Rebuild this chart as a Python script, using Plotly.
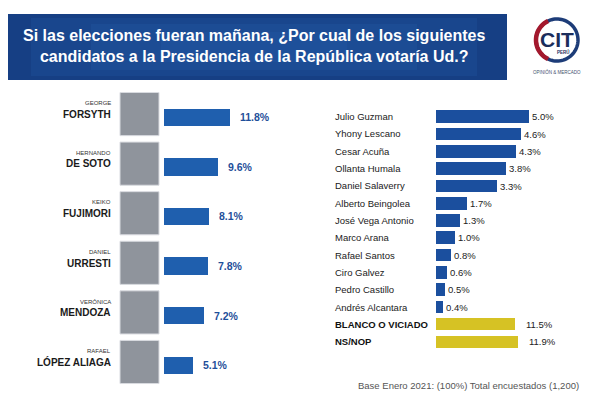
import numpy as np
import plotly.graph_objects as go

# left panel: main candidates
first_names = ["GEORGE", "HERNANDO", "KEIKO", "DANIEL", "VERÓNICA", "RAFAEL"]
last_names = ["FORSYTH", "DE SOTO", "FUJIMORI", "URRESTI", "MENDOZA", "LÓPEZ ALIAGA"]
main_vals = [11.8, 9.6, 8.1, 7.8, 7.2, 5.1]

# right panel: other candidates
other_names = ["Julio Guzman", "Yhony Lescano", "Cesar Acuña", "Ollanta Humala",
               "Daniel Salaverry", "Alberto Beingolea", "José Vega Antonio", "Marco Arana",
               "Rafael Santos", "Ciro Galvez", "Pedro Castillo", "Andrés Alcantara"]
other_vals = [5.0, 4.6, 4.3, 3.8, 3.3, 1.7, 1.3, 1.0, 0.8, 0.6, 0.5, 0.4]

blank_names = ["BLANCO O VICIADO", "NS/NOP"]
blank_vals = [11.5, 11.9]

title = ("Si las elecciones fueran mañana, ¿Por cual de los siguientes<br>"
         "candidatos a la Presidencia de la República votaría Ud.?")
footer = "Base Enero 2021: (100%) Total encuestados (1,200)"

W, H = 600, 400
OFF = 8  # the page body margin pushes the plot 8px right and down
FONT = "Liberation Sans"


def px(x):
    return (x - OFF) / W


def py(y):
    return 1 - (y - OFF) / H


fig = go.Figure()

fig.add_bar(x=main_vals, y=last_names, orientation="h", width=0.35,
            marker=dict(color="#1f5fae", line=dict(width=0)),
            xaxis="x", yaxis="y", hoverinfo="x+y")

fig.add_bar(x=other_vals, y=other_names, orientation="h", width=0.73,
            marker=dict(color="#1b4f9e", line=dict(width=0)),
            text=[f"{v:.1f}%" for v in other_vals], textposition="outside",
            textfont=dict(family=FONT, size=9.5, color="#222222"),
            cliponaxis=False, xaxis="x2", yaxis="y2", hoverinfo="x+y")

fig.add_bar(x=blank_vals, y=blank_names, orientation="h", width=0.68,
            marker=dict(color="#d6c224", line=dict(width=0)),
            xaxis="x3", yaxis="y2", hoverinfo="x+y")

hidden = dict(showgrid=False, zeroline=False, showticklabels=False, showline=False,
              ticks="", fixedrange=True)

fig.update_layout(
    width=W, height=H,
    margin=dict(l=0, r=0, t=0, b=0),
    paper_bgcolor="white", plot_bgcolor="rgba(0,0,0,0)",
    showlegend=False, bargap=0,
    font=dict(family=FONT, color="#222222"),
    xaxis=dict(domain=[px(164), px(164 + 5.6 * 22)], range=[0, 22], anchor="y", **hidden),
    yaxis=dict(domain=[py(390), py(92)], autorange="reversed", anchor="x",
               categoryorder="array", categoryarray=last_names, **hidden),
    xaxis2=dict(domain=[px(436), px(436 + 18.5 * 7)], range=[0, 7], anchor="y2", **hidden),
    xaxis3=dict(domain=[px(436), px(436 + 18.5 * 7)], range=[0, 18.5 * 7 / 6.85],
                overlaying="x2", anchor="y2", **hidden),
    yaxis2=dict(domain=[py(350.3), py(108)], autorange="reversed", anchor="x2",
                categoryorder="array", categoryarray=other_names + blank_names, **hidden),
)

shapes = []
annotations = []


def label(text, x, y, size, color="#222222", xanchor="center", yanchor="middle", **kw):
    annotations.append(dict(text=text, x=x, y=y, xanchor=xanchor, yanchor=yanchor,
                            showarrow=False, font=dict(family=FONT, size=size, color=color), **kw))


# title banner with a soft lighter centre
shapes.append(dict(type="rect", xref="paper", yref="paper", x0=px(1), x1=px(507),
                   y0=py(80), y1=py(14), fillcolor="#163f84", line=dict(width=0), layer="below"))
for dx, dy in [(30, 4), (90, 10), (160, 18)]:
    shapes.append(dict(type="rect", xref="paper", yref="paper", x0=px(1 + dx), x1=px(507 - dx),
                       y0=py(80 - dy), y1=py(14 + dy), fillcolor="#2a62b4", opacity=0.2,
                       line=dict(width=0), layer="below"))
label(f"<b>{title}</b>", px(254), py(46), 16, "white", xref="paper", yref="paper", align="center")

# CIT logo
cx, cy, r = 557, 40, 21
t = np.linspace(0, 2 * np.pi, 80)
ring = "M " + " L ".join(f"{px(cx + r * np.cos(a))},{py(cy - r * np.sin(a))}" for a in t) + " Z"
shapes.append(dict(type="path", xref="paper", yref="paper", path=ring,
                   line=dict(color="#1d3c78", width=3.5)))
t = np.linspace(np.radians(115), np.radians(245), 30)
arc = "M " + " L ".join(f"{px(cx + r * np.cos(a))},{py(cy - r * np.sin(a))}" for a in t)
shapes.append(dict(type="path", xref="paper", yref="paper", path=arc,
                   line=dict(color="#a3182d", width=4.5)))
label("<b>CIT</b>", px(cx), py(cy - 1), 21, "#1b2d5c", xref="paper", yref="paper")
label("<b>PERÚ</b>", px(cx + 6), py(cy + 12), 4.5, "#1b2d5c", xref="paper", yref="paper")
label("OPINIÓN & MERCADO", px(cx), py(72), 4.5, "#44506e", xref="paper", yref="paper")

# left panel: photo placeholders, names and values
for i, (fn, ln, v) in enumerate(zip(first_names, last_names, main_vals)):
    shapes.append(dict(type="rect", xref="paper", yref="y", x0=px(120), x1=px(159),
                       y0=i - 0.5, y1=i + 0.37, fillcolor="#8f949c",
                       line=dict(color="#d9dbe0", width=1), layer="below"))
    annotations.append(dict(text=ln, x=px(113), y=ln, xref="paper", yref="y", yshift=3,
                            xanchor="right", yanchor="middle", showarrow=False,
                            font=dict(family=FONT, size=10, color="#1a1a1a", weight=900)))
    label(fn, px(113), ln, 6, "#333333", xanchor="right", xref="paper", yref="y", yshift=14)
    label(f"<b>{v:.1f}%</b>", v, ln, 10.5, "#1f4f9a", xanchor="left",
          xref="x", yref="y", xshift=8)

# right panel names
for n in other_names:
    label(n, px(333), n, 9.5, "#1a1a1a", xanchor="left", xref="paper", yref="y2")
for n, v in zip(blank_names, blank_vals):
    label(f"<b>{n}</b>", px(333), n, 9.5, "#111111", xanchor="left", xref="paper", yref="y2")
    label(f"{v:.1f}%", v, n, 9.5, "#222222", xanchor="left", xref="x3", yref="y2", xshift=9)

label(footer, px(356), py(385), 9.5, "#555555", xanchor="left", xref="paper", yref="paper")

fig.update_layout(shapes=shapes, annotations=annotations)
fig.write_html("out.html")
